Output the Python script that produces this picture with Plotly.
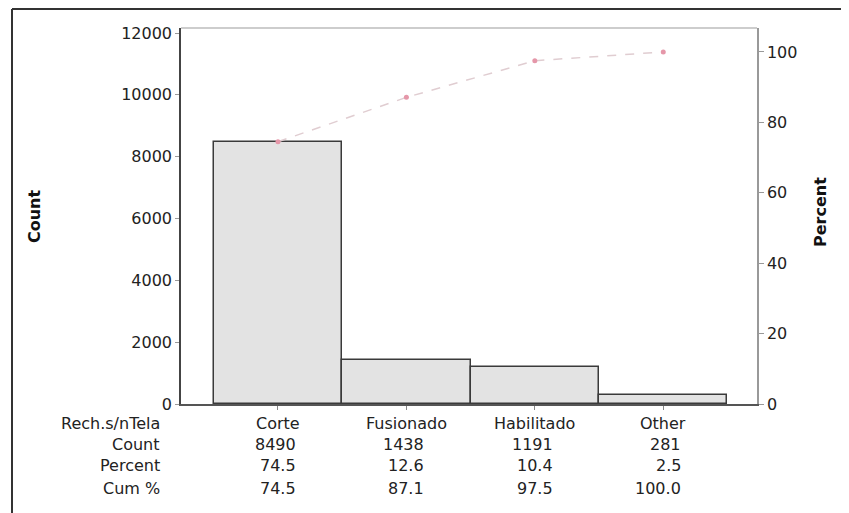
import plotly.graph_objects as go

categories = ["Corte", "Fusionado", "Habilitado", "Other"]
counts = [8490, 1438, 1191, 281]
percents = ["74.5", "12.6", "10.4", "2.5"]
cum_pct = [74.5, 87.1, 97.5, 100.0]
cum_labels = ["74.5", "87.1", "97.5", "100.0"]
count_labels = ["8490", "1438", "1191", "281"]
row_labels = ["Rech.s/nTela", "Count", "Percent", "Cum %"]
left_ticks = [0, 2000, 4000, 6000, 8000, 10000, 12000]
left_tick_text = ["0", "2000", "4000", "6000", "8000", "10000", "12000"]
right_ticks = [0, 20, 40, 60, 80, 100]
right_tick_text = ["0", "20", "40", "60", "80", "100"]

OFF = 8  # page body margin
W, H = 849 - OFF, 513 - OFF
L, R, T, B = 181 - OFF, 757 - OFF, 28 - OFF, 404 - OFF
pw, ph = R - L, B - T

def px(x):
    return (x - OFF - L) / pw

def py(y):
    return (B - (y - OFF)) / ph

FONT = "DejaVu Sans"
xs = list(range(len(categories)))

fig = go.Figure()
fig.add_trace(go.Bar(
    x=xs, y=counts, width=1.0,
    marker=dict(color="#e3e3e3", line=dict(color="#3a3a3a", width=1.5)),
    showlegend=False, hoverinfo="skip",
))
fig.add_trace(go.Scatter(
    x=xs, y=cum_pct, yaxis="y2", mode="lines+markers",
    line=dict(color="#e0cdd1", width=1.5, dash="dash"),
    marker=dict(color="#e597a9", size=5, symbol="circle"),
    showlegend=False, hoverinfo="skip",
))

ann = []
row_y = [423, 444, 466, 488]
for lab, yy in zip(row_labels, row_y):
    ann.append(dict(text=lab, x=px(162), y=py(yy), xref="paper", yref="paper",
                    xanchor="right", yanchor="middle", showarrow=False,
                    font=dict(family=FONT, size=16, color="#222")))
for i, c in enumerate(categories):
    ann.append(dict(text=c, x=i, y=py(row_y[0]), xref="x", yref="paper",
                    xanchor="center", yanchor="middle", showarrow=False,
                    font=dict(family=FONT, size=16, color="#222")))
    for vals, yy in ((count_labels, row_y[1]), (percents, row_y[2]), (cum_labels, row_y[3])):
        ann.append(dict(text=vals[i], x=i, y=py(yy), xref="x", yref="paper",
                        xanchor="right", xshift=20, yanchor="middle", showarrow=False,
                        font=dict(family=FONT, size=16, color="#222")))
ann.append(dict(text="<b>Count</b>", x=px(34), y=py(216), xref="paper", yref="paper",
                textangle=-90, showarrow=False, xanchor="center", yanchor="middle",
                font=dict(family=FONT, size=16, color="#111")))
ann.append(dict(text="<b>Percent</b>", x=px(820), y=py(212), xref="paper", yref="paper",
                textangle=-90, showarrow=False, xanchor="center", yanchor="middle",
                font=dict(family=FONT, size=16, color="#111")))

shapes = [
    dict(type="line", xref="paper", yref="paper", x0=px(12), x1=px(12), y0=py(9), y1=py(513),
         line=dict(color="#333", width=2)),
    dict(type="line", xref="paper", yref="paper", x0=px(12), x1=px(849), y0=py(9), y1=py(9),
         line=dict(color="#333", width=2)),
    dict(type="line", xref="paper", yref="paper", x0=px(846), x1=px(846), y0=py(9), y1=py(513),
         line=dict(color="#e4e4e4", width=1)),
    dict(type="line", xref="paper", yref="paper", x0=0, x1=1, y0=1, y1=1,
         line=dict(color="#bdbdbd", width=1.5)),
]

fig.update_layout(
    width=W, height=H,
    margin=dict(l=L, r=W - R, t=T, b=H - B),
    paper_bgcolor="white", plot_bgcolor="white",
    bargap=0,
    xaxis=dict(range=[-0.755, 3.73], tickvals=xs, showticklabels=False,
               ticks="outside", ticklen=4, tickcolor="#888",
               showline=True, linecolor="#555", linewidth=1.5,
               showgrid=False, zeroline=False, fixedrange=True),
    yaxis=dict(range=[0, 12162], tickvals=left_ticks, ticktext=left_tick_text,
               ticks="outside", ticklen=4,
               tickcolor="#999", showline=True, linecolor="#444", linewidth=1.5,
               showgrid=False, zeroline=False,
               tickfont=dict(family=FONT, size=16, color="#222")),
    yaxis2=dict(range=[0, 106.8], tickvals=right_ticks, ticktext=right_tick_text,
                overlaying="y", side="right",
                ticks="outside", ticklen=5, tickcolor="#999",
                showline=True, linecolor="#999", linewidth=1.5,
                showgrid=False, zeroline=False,
                tickfont=dict(family=FONT, size=16, color="#222")),
    annotations=ann,
    shapes=shapes,
)

fig.write_html("out.html")
